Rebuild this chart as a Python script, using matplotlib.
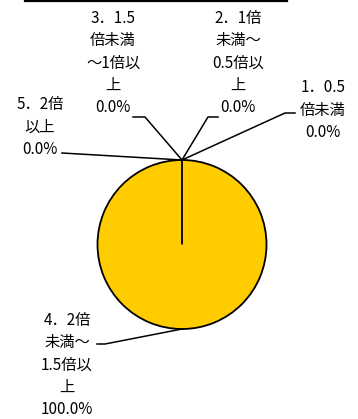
import matplotlib.pyplot as plt
import numpy as np

plt.rcParams['font.family'] = ['Noto Sans CJK JP', 'DejaVu Sans']

# データ（時計回り、上から）
labels = ['1．0.5\n倍未満', '2．1倍\n未満～\n0.5倍以\n上', '3．1.5\n倍未満\n～1倍以\n上',
          '4．2倍\n未満～\n1.5倍以\n上', '5．2倍\n以上']
values = [0.0, 0.0, 0.0, 100.0, 0.0]

# ラベル位置（ピクセル、上が0）とリーダー線の折れ点
label_pos = [(323, 110), (238, 63), (113, 63), (67, 365), (40, 127)]
elbow = [((285, 113), (295, 113)), ((208, 117), (218, 117)), ((145, 117), (133, 117)),
         ((105, 344), (97, 344)), ((62, 153), (62, 153))]

W, H = 358, 419
fig = plt.figure(figsize=(W / 100, H / 100), dpi=100)
ax = fig.add_axes([0, 0, 1, 1])

cx, cy, r = 182, H - 244.5, 84.5
wedges, _ = ax.pie(values, startangle=90, counterclock=False, center=(cx, cy), radius=r,
                   colors=['#FFCC00'] * len(values),
                   wedgeprops=dict(edgecolor='black', linewidth=1.3))
ax.set_xlim(0, W)
ax.set_ylim(0, H)
ax.set_aspect('equal')
ax.axis('off')

total = sum(values)
for w, lab, v, (lx, ly), (p1, p2) in zip(wedges, labels, values, label_pos, elbow):
    ang = np.deg2rad((w.theta1 + w.theta2) / 2)
    ex, ey = cx + r * np.cos(ang), cy + r * np.sin(ang)
    ax.plot([ex, p1[0], p2[0]], [ey, H - p1[1], H - p2[1]], color='black', lw=1.1)
    ax.text(lx, H - ly, f'{lab}\n{v / total * 100:.1f}%', ha='center', va='center',
            fontsize=11, linespacing=1.4)

# 上部の枠線
ax.plot([25, 287], [H - 0.8, H - 0.8], color='black', lw=1.6, clip_on=False)

fig.savefig('out.png', dpi=100)
